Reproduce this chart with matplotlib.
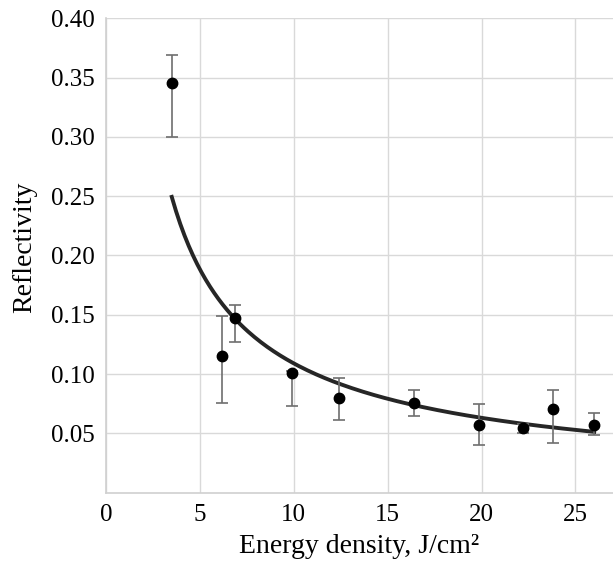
import numpy as np
import matplotlib
matplotlib.use("Agg")
import matplotlib.pyplot as plt

plt.rcParams['font.family'] = ['Liberation Serif', 'DejaVu Serif']

# measured points
energy = [3.5, 6.2, 6.85, 9.9, 12.4, 16.4, 19.85, 22.2, 23.8, 26.0]
refl = [0.345, 0.115, 0.147, 0.101, 0.080, 0.076, 0.057, 0.055, 0.071, 0.057]
err_low = [0.045, 0.039, 0.020, 0.028, 0.019, 0.011, 0.017, 0.005, 0.029, 0.008]
err_high = [0.024, 0.034, 0.011, 0.002, 0.017, 0.011, 0.018, 0.003, 0.016, 0.010]

x_ticks = [0, 5, 10, 15, 20, 25]
y_ticks = [0.05, 0.10, 0.15, 0.20, 0.25, 0.30, 0.35, 0.40]

# power trendline, fitted in log-log space
b, ln_a = np.polyfit(np.log(energy), np.log(refl), 1)
xs = np.linspace(min(energy), max(energy), 200)
ys = np.exp(ln_a) * xs ** b

fig = plt.figure(figsize=(6.13, 5.69), dpi=100)
ax = fig.add_axes([0.173, 0.134, 0.827, 0.834])

ax.plot(xs, ys, color='#262626', lw=2.8, zorder=3)
ax.errorbar(energy, refl, yerr=[err_low, err_high], fmt='o', color='black',
            ms=7.5, ecolor='#6e6e6e', elinewidth=1.2, capsize=4, capthick=1.2, zorder=4)

ax.set_xlim(0, 27)
ax.set_ylim(0, 0.40)
ax.set_xticks(x_ticks)
ax.set_yticks(y_ticks)
ax.set_yticklabels([f'{v:.2f}' for v in y_ticks])
ax.tick_params(length=0, labelsize=18, pad=8)
ax.grid(color='#d9d9d9', lw=1)
ax.set_axisbelow(True)
for s in ['top', 'right']:
    ax.spines[s].set_visible(False)
for s in ['left', 'bottom']:
    ax.spines[s].set_color('#d0d0d0')
    ax.spines[s].set_linewidth(1.2)

ax.set_xlabel('Energy density, J/cm²', fontsize=20, labelpad=6)
ax.set_ylabel('Reflectivity', fontsize=20, labelpad=10)
ax.yaxis.label.set_y(0.517)

fig.savefig('out.png', dpi=100)
